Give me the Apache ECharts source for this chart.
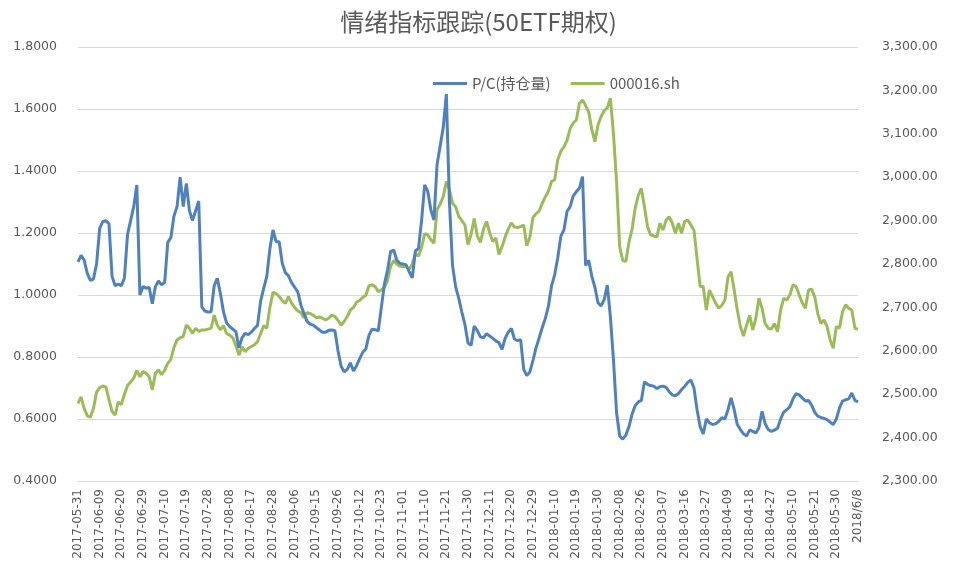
<!DOCTYPE html>
<html>
<head>
<meta charset="utf-8">
<script src="https://cdn.jsdelivr.net/npm/echarts@6/dist/echarts.min.js"></script>
<style>
html,body{margin:0;padding:0;background:#fff;}
#chart{width:957px;height:575px;}
</style>
</head>
<body>
<div id="chart"></div>
<script>
var titleText = '情绪指标跟踪(50ETF期权)';
var seriesNames = ['P/C(持仓量)', '000016.sh'];

var dates = [
'2017-05-31',
'2017-06-01','2017-06-02','2017-06-05','2017-06-06','2017-06-07','2017-06-08','2017-06-09','2017-06-12','2017-06-13','2017-06-14','2017-06-15','2017-06-16','2017-06-19','2017-06-20','2017-06-21','2017-06-22','2017-06-23','2017-06-26','2017-06-27','2017-06-28','2017-06-29','2017-06-30',
'2017-07-03','2017-07-04','2017-07-05','2017-07-06','2017-07-07','2017-07-10','2017-07-11','2017-07-12','2017-07-13','2017-07-14','2017-07-17','2017-07-18','2017-07-19','2017-07-20','2017-07-21','2017-07-24','2017-07-25','2017-07-26','2017-07-27','2017-07-28','2017-07-31',
'2017-08-01','2017-08-02','2017-08-03','2017-08-04','2017-08-07','2017-08-08','2017-08-09','2017-08-10','2017-08-11','2017-08-14','2017-08-15','2017-08-16','2017-08-17','2017-08-18','2017-08-21','2017-08-22','2017-08-23','2017-08-24','2017-08-25','2017-08-28','2017-08-29','2017-08-30','2017-08-31',
'2017-09-01','2017-09-04','2017-09-05','2017-09-06','2017-09-07','2017-09-08','2017-09-11','2017-09-12','2017-09-13','2017-09-14','2017-09-15','2017-09-18','2017-09-19','2017-09-20','2017-09-21','2017-09-22','2017-09-25','2017-09-26','2017-09-27','2017-09-28','2017-09-29',
'2017-10-09','2017-10-10','2017-10-11','2017-10-12','2017-10-13','2017-10-16','2017-10-17','2017-10-18','2017-10-19','2017-10-20','2017-10-23','2017-10-24','2017-10-25','2017-10-26','2017-10-27','2017-10-30','2017-10-31',
'2017-11-01','2017-11-02','2017-11-03','2017-11-06','2017-11-07','2017-11-08','2017-11-09','2017-11-10','2017-11-13','2017-11-14','2017-11-15','2017-11-16','2017-11-17','2017-11-20','2017-11-21','2017-11-22','2017-11-23','2017-11-24','2017-11-27','2017-11-28','2017-11-29','2017-11-30',
'2017-12-01','2017-12-04','2017-12-05','2017-12-06','2017-12-07','2017-12-08','2017-12-11','2017-12-12','2017-12-13','2017-12-14','2017-12-15','2017-12-18','2017-12-19','2017-12-20','2017-12-21','2017-12-22','2017-12-25','2017-12-26','2017-12-27','2017-12-28','2017-12-29',
'2018-01-02','2018-01-03','2018-01-04','2018-01-05','2018-01-08','2018-01-09','2018-01-10','2018-01-11','2018-01-12','2018-01-15','2018-01-16','2018-01-17','2018-01-18','2018-01-19','2018-01-22','2018-01-23','2018-01-24','2018-01-25','2018-01-26','2018-01-29','2018-01-30','2018-01-31',
'2018-02-01','2018-02-02','2018-02-05','2018-02-06','2018-02-07','2018-02-08','2018-02-09','2018-02-12','2018-02-13','2018-02-14','2018-02-22','2018-02-23','2018-02-26','2018-02-27','2018-02-28',
'2018-03-01','2018-03-02','2018-03-05','2018-03-06','2018-03-07','2018-03-08','2018-03-09','2018-03-12','2018-03-13','2018-03-14','2018-03-15','2018-03-16','2018-03-19','2018-03-20','2018-03-21','2018-03-22','2018-03-23','2018-03-26','2018-03-27','2018-03-28','2018-03-29','2018-03-30',
'2018-04-02','2018-04-03','2018-04-04','2018-04-09','2018-04-10','2018-04-11','2018-04-12','2018-04-13','2018-04-16','2018-04-17','2018-04-18','2018-04-19','2018-04-20','2018-04-23','2018-04-24','2018-04-25','2018-04-26','2018-04-27',
'2018-05-02','2018-05-03','2018-05-04','2018-05-07','2018-05-08','2018-05-09','2018-05-10','2018-05-11','2018-05-14','2018-05-15','2018-05-16','2018-05-17','2018-05-18','2018-05-21','2018-05-22','2018-05-23','2018-05-24','2018-05-25','2018-05-28','2018-05-29','2018-05-30','2018-05-31',
'2018-06-01','2018-06-04','2018-06-05','2018-06-06','2018-06-07','2018/6/8'
];

var pcRatio = [
1.107,1.128,1.112,1.070,1.047,1.052,1.100,1.215,1.237,1.240,
1.230,1.060,1.030,1.035,1.030,1.055,1.195,1.240,1.285,1.355,
1.000,1.027,1.022,1.024,0.972,1.027,1.045,1.033,1.040,1.170,
1.185,1.255,1.285,1.380,1.285,1.360,1.272,1.240,1.272,1.303,
0.962,0.948,0.945,0.946,1.030,1.054,1.005,0.946,0.910,0.898,
0.890,0.882,0.830,0.862,0.876,0.872,0.880,0.892,0.902,0.980,
1.022,1.060,1.150,1.210,1.172,1.172,1.102,1.072,1.062,1.040,
1.025,1.010,0.968,0.940,0.915,0.906,0.903,0.895,0.887,0.880,
0.880,0.886,0.887,0.885,0.820,0.770,0.752,0.760,0.781,0.755,
0.772,0.795,0.815,0.826,0.870,0.890,0.888,0.884,0.960,1.035,
1.080,1.140,1.145,1.112,1.102,1.100,1.097,1.075,1.055,1.142,
1.150,1.240,1.355,1.335,1.274,1.242,1.420,1.480,1.540,1.648,
1.300,1.095,1.027,0.990,0.945,0.905,0.845,0.838,0.900,0.885,
0.865,0.862,0.875,0.868,0.860,0.852,0.846,0.825,0.860,0.880,
0.892,0.858,0.853,0.856,0.760,0.740,0.752,0.790,0.830,0.862,
0.895,0.925,0.965,1.030,1.065,1.120,1.190,1.210,1.270,1.285,
1.320,1.333,1.345,1.382,1.095,1.112,1.060,1.025,0.975,0.965,
0.985,1.032,0.930,0.790,0.620,0.545,0.535,0.548,0.575,0.615,
0.643,0.655,0.660,0.720,0.712,0.708,0.706,0.698,0.704,0.706,
0.702,0.688,0.678,0.675,0.682,0.695,0.705,0.718,0.726,0.700,
0.630,0.575,0.552,0.600,0.588,0.582,0.585,0.592,0.604,0.600,
0.630,0.668,0.630,0.582,0.566,0.552,0.545,0.565,0.560,0.555,
0.572,0.625,0.585,0.566,0.560,0.564,0.570,0.600,0.622,0.630,
0.640,0.665,0.682,0.678,0.668,0.658,0.660,0.645,0.622,0.609,
0.605,0.602,0.598,0.590,0.582,0.600,0.635,0.658,0.662,0.665,
0.684,0.660,0.655
];

var sz50Index = [
2479,2494,2467,2450,2447,2467,2505,2515,2519,2517,
2488,2460,2452,2482,2476,2500,2520,2528,2537,2555,
2540,2552,2548,2540,2510,2548,2556,2545,2555,2571,
2580,2608,2625,2630,2633,2659,2652,2640,2652,2645,
2648,2648,2650,2652,2682,2659,2648,2658,2640,2636,
2630,2612,2590,2609,2598,2606,2610,2614,2621,2640,
2658,2652,2700,2735,2732,2725,2716,2709,2725,2710,
2700,2692,2688,2676,2688,2686,2682,2676,2678,2675,
2671,2675,2682,2679,2670,2659,2668,2679,2694,2700,
2712,2716,2723,2728,2750,2752,2748,2736,2740,2747,
2762,2795,2808,2800,2795,2794,2794,2788,2800,2824,
2818,2838,2870,2867,2856,2848,2925,2938,2955,2990,
2972,2940,2932,2910,2900,2890,2845,2868,2905,2865,
2850,2880,2898,2872,2852,2860,2822,2840,2862,2880,
2895,2885,2884,2886,2890,2842,2862,2908,2916,2922,
2940,2955,2968,2990,2994,3040,3060,3070,3085,3112,
3125,3132,3170,3178,3165,3150,3110,3082,3120,3140,
3153,3160,3182,3100,2990,2840,2808,2806,2850,2880,
2928,2958,2974,2932,2886,2867,2865,2862,2894,2878,
2901,2909,2894,2871,2894,2871,2898,2901,2890,2878,
2813,2748,2748,2694,2740,2725,2710,2698,2705,2717,
2770,2782,2740,2694,2656,2634,2659,2682,2648,2675,
2721,2698,2663,2652,2650,2663,2644,2694,2721,2717,
2729,2752,2748,2729,2710,2698,2740,2742,2725,2686,
2663,2671,2656,2625,2606,2656,2652,2690,2706,2698,
2694,2652,2650
];

var chart = echarts.init(document.getElementById('chart'), null, {renderer: 'canvas'});
var txt = '#595959';
var font = 'DejaVu Sans';
chart.setOption({
  animation: false,
  backgroundColor: '#ffffff',
  title: {
    text: titleText,
    left: 'center',
    top: 5,
    textStyle: {fontSize: 24, fontWeight: 'normal', color: txt, fontFamily: 'Noto Sans CJK SC'}
  },
  legend: {
    top: 71,
    left: 428,
    itemWidth: 34,
    itemHeight: 3,
    itemGap: 20,
    icon: 'rect',
    textStyle: {fontSize: 15, color: txt, fontFamily: 'Noto Sans CJK SC'},
    data: seriesNames
  },
  grid: {left: 78, right: 99, top: 47, bottom: 94, containLabel: false},
  xAxis: {
    type: 'category',
    data: dates,
    boundaryGap: false,
    axisLine: {lineStyle: {color: '#d9d9d9', width: 1}},
    axisTick: {show: false},
    axisLabel: {interval: 6, rotate: 90, fontSize: 12, color: txt, fontFamily: font, margin: 8}
  },
  yAxis: [
    {
      type: 'value', min: 0.4, max: 1.8, interval: 0.2,
      axisLine: {show: false}, axisTick: {show: false},
      splitLine: {lineStyle: {color: '#d9d9d9', width: 1}},
      axisLabel: {fontSize: 12.5, color: txt, fontFamily: font, margin: 21,
        formatter: function (v) { return v.toFixed(4); }}
    },
    {
      type: 'value', min: 2300, max: 3300, interval: 100,
      axisLine: {show: false}, axisTick: {show: false},
      splitLine: {show: false},
      axisLabel: {fontSize: 12.5, color: txt, fontFamily: font, margin: 24,
        formatter: function (v) {
          var s = Math.round(v).toString();
          return s.replace(/\B(?=(\d{3})+(?!\d))/g, ',') + '.00';
        }}
    }
  ],
  series: [
    {
      name: seriesNames[0], type: 'line', yAxisIndex: 0, data: pcRatio,
      symbol: 'none', lineStyle: {color: '#4F81BD', width: 3}, itemStyle: {color: '#4F81BD'}, z: 3
    },
    {
      name: seriesNames[1], type: 'line', yAxisIndex: 1, data: sz50Index,
      symbol: 'none', lineStyle: {color: '#9BBB59', width: 3}, itemStyle: {color: '#9BBB59'}, z: 2
    }
  ]
});
</script>
</body>
</html>
